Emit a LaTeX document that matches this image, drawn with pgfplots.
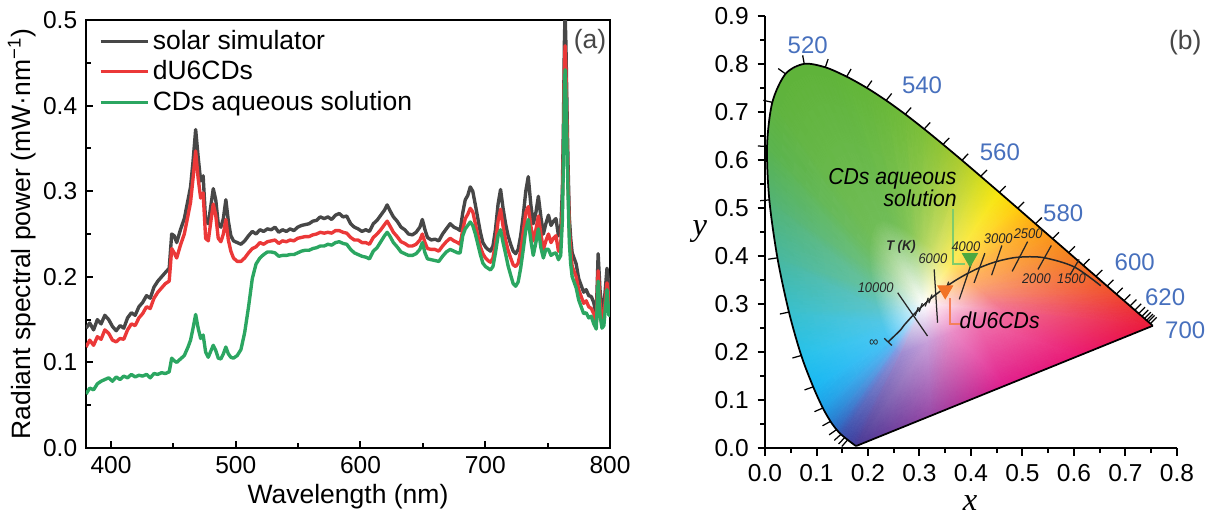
\documentclass[border=0pt]{standalone}
\usepackage{fontspec}
\setmainfont{Liberation Sans}
\newfontfamily\narrowsans[FakeStretch=0.92]{Liberation Sans}
\newfontfamily\seriffont{Liberation Serif}
\usepackage{pgfplots}
\usepackage{pgfplotstable}
\pgfplotsset{compat=1.18}
\definecolor{cblack}{rgb}{0.28,0.28,0.28}
\definecolor{cred}{rgb}{0.92,0.22,0.22}
\definecolor{cgreen}{rgb}{0.17,0.65,0.38}
\definecolor{wlblue}{rgb}{0.28,0.44,0.74}
\definecolor{mkgreen}{rgb}{0.30,0.66,0.25}
\definecolor{mkorange}{rgb}{0.95,0.45,0.15}
\definecolor{ldgreen}{rgb}{0.50,0.80,0.42}
\definecolor{ldorange}{rgb}{0.96,0.50,0.36}

\pgfplotstableread{
lam b r g
380 0.140 0.118 0.063
383 0.146 0.126 0.070
386.1 0.138 0.120 0.068
389.1 0.150 0.130 0.075
392.1 0.145 0.127 0.078
395.1 0.155 0.138 0.080
398.2 0.150 0.134 0.082
401.2 0.142 0.126 0.078
404.2 0.137 0.124 0.083
407.3 0.143 0.128 0.080
410.3 0.140 0.127 0.084
413.3 0.152 0.138 0.082
416.4 0.158 0.145 0.086
419.4 0.155 0.143 0.083
422.4 0.165 0.152 0.085
425.4 0.170 0.157 0.084
428.5 0.178 0.165 0.086
431.5 0.175 0.163 0.082
434.5 0.188 0.175 0.087
437.6 0.195 0.182 0.086
440.6 0.200 0.187 0.088
443.6 0.205 0.192 0.087
446.7 0.210 0.195 0.089
448.7 0.250 0.233 0.105
450.7 0.248 0.228 0.102
452.7 0.240 0.222 0.100
455.7 0.255 0.237 0.104
458.8 0.268 0.250 0.108
461.8 0.290 0.272 0.118
463.8 0.305 0.287 0.126
465.8 0.335 0.315 0.140
467.9 0.372 0.347 0.156
469.9 0.340 0.315 0.140
471.9 0.312 0.292 0.128
473.9 0.318 0.298 0.132
475.9 0.265 0.245 0.112
478.0 0.262 0.242 0.106
480.0 0.282 0.264 0.113
482.0 0.303 0.285 0.120
484.0 0.290 0.272 0.114
486.0 0.262 0.245 0.105
488.1 0.258 0.241 0.104
490.1 0.268 0.250 0.110
492.1 0.290 0.267 0.118
494.1 0.265 0.243 0.110
496.1 0.248 0.230 0.106
498.2 0.242 0.222 0.105
501.2 0.240 0.218 0.108
504.2 0.238 0.218 0.115
507.2 0.242 0.222 0.135
510.3 0.248 0.228 0.165
513.3 0.253 0.233 0.198
516.3 0.250 0.235 0.215
519.4 0.255 0.240 0.222
522.4 0.253 0.238 0.226
525.4 0.256 0.241 0.229
528.5 0.255 0.242 0.229
531.5 0.258 0.243 0.228
534.5 0.252 0.239 0.224
537.5 0.255 0.242 0.225
540.6 0.253 0.241 0.225
543.6 0.256 0.243 0.226
546.6 0.254 0.242 0.226
549.7 0.258 0.245 0.228
552.7 0.260 0.246 0.230
555.7 0.261 0.247 0.231
558.8 0.262 0.247 0.231
561.8 0.265 0.249 0.233
564.8 0.266 0.250 0.234
567.8 0.270 0.252 0.236
570.9 0.268 0.251 0.236
573.9 0.270 0.252 0.238
576.9 0.267 0.251 0.237
580.0 0.272 0.254 0.240
583.0 0.274 0.254 0.241
586.0 0.270 0.252 0.239
589.0 0.271 0.251 0.238
592.1 0.262 0.246 0.232
595.1 0.258 0.243 0.228
598.1 0.256 0.243 0.226
601.2 0.253 0.240 0.224
604.2 0.255 0.240 0.223
607.2 0.253 0.238 0.221
610.3 0.262 0.246 0.230
613.3 0.266 0.250 0.234
616.3 0.272 0.255 0.241
619.3 0.278 0.261 0.248
621.4 0.284 0.265 0.252
623.4 0.278 0.260 0.248
626.4 0.270 0.252 0.240
629.4 0.265 0.247 0.235
632.5 0.258 0.241 0.229
635.5 0.255 0.239 0.227
638.5 0.250 0.236 0.225
641.6 0.249 0.236 0.225
644.6 0.252 0.238 0.227
647.6 0.258 0.243 0.232
649.6 0.267 0.250 0.240
651.7 0.255 0.240 0.228
653.7 0.246 0.233 0.221
656.7 0.243 0.232 0.220
659.7 0.244 0.232 0.219
662.8 0.242 0.230 0.218
665.8 0.250 0.236 0.224
668.8 0.256 0.241 0.229
671.9 0.262 0.245 0.232
674.9 0.258 0.242 0.230
677.9 0.256 0.240 0.228
679.9 0.254 0.238 0.228
682.0 0.275 0.255 0.248
684.0 0.290 0.268 0.256
686.0 0.295 0.273 0.260
688.0 0.305 0.280 0.264
690.0 0.300 0.276 0.260
692.1 0.284 0.262 0.250
694.1 0.268 0.248 0.238
696.1 0.252 0.235 0.226
698.1 0.240 0.227 0.216
700.2 0.235 0.222 0.212
702.2 0.232 0.219 0.210
704.2 0.230 0.217 0.208
706.2 0.236 0.222 0.212
708.2 0.255 0.238 0.228
710.3 0.285 0.265 0.248
712.3 0.302 0.279 0.255
714.3 0.280 0.259 0.240
716.3 0.262 0.243 0.227
718.3 0.248 0.231 0.213
720.4 0.238 0.222 0.202
722.4 0.230 0.214 0.192
724.4 0.227 0.212 0.189
726.4 0.232 0.216 0.194
728.4 0.248 0.230 0.210
730.5 0.272 0.252 0.232
732.5 0.300 0.275 0.255
734.5 0.317 0.282 0.267
736.5 0.285 0.260 0.243
738.5 0.262 0.242 0.225
740.6 0.275 0.255 0.240
742.6 0.294 0.271 0.256
744.6 0.270 0.250 0.234
746.6 0.250 0.232 0.222
748.6 0.262 0.242 0.232
750.7 0.272 0.250 0.232
752.7 0.260 0.240 0.225
754.7 0.265 0.245 0.227
756.7 0.268 0.248 0.228
758.7 0.248 0.230 0.220
760.5 0.255 0.237 0.225
761.8 0.300 0.280 0.265
762.7 0.380 0.355 0.335
763.4 0.470 0.440 0.415
764.0 0.510 0.470 0.442
764.7 0.470 0.440 0.415
765.5 0.400 0.375 0.355
766.4 0.330 0.310 0.295
767.4 0.270 0.255 0.240
768.5 0.245 0.230 0.215
769.7 0.228 0.212 0.200
772.9 0.215 0.200 0.187
774.9 0.198 0.185 0.173
776.9 0.190 0.177 0.165
778.9 0.182 0.169 0.157
780.9 0.185 0.172 0.158
783.0 0.178 0.165 0.152
785.0 0.177 0.163 0.154
787.0 0.170 0.157 0.145
789.0 0.155 0.145 0.139
790.5 0.227 0.207 0.195
792.0 0.185 0.170 0.155
793.6 0.160 0.150 0.140
795.1 0.165 0.155 0.143
797.6 0.210 0.193 0.185
799.1 0.190 0.175 0.155
801.1 0.180 0.167 0.155
804.2 0.185 0.172 0.160
}\specdata

\begin{document}
\begin{tikzpicture}
\path[use as bounding box] (-34.4pt,-28pt) rectangle (448.4pt,179.2pt);
% ---------------- (a) ----------------
\begin{axis}[
  at={(0pt,0pt)}, anchor=south west,
  scale only axis, width=209.6pt, height=171.2pt,
  xmin=380, xmax=800, ymin=0, ymax=0.5,
  xtick={400,500,600,700,800},
  ytick={0,0.1,0.2,0.3,0.4,0.5},
  minor x tick num=1, minor y tick num=1,
  tick align=inside, tick pos=left,
  major tick length=3pt, minor tick length=2pt,
  tick style={black, line width=0.8pt},
  axis line style={line width=0.9pt},
  yticklabel style={/pgf/number format/fixed, /pgf/number format/fixed zerofill, /pgf/number format/precision=1},
  /pgf/number format/assume math mode=true,
  tick label style={font=\fontsize{9.8}{11}\selectfont},
  label style={font=\fontsize{10.6}{12}\selectfont},
  xlabel={Wavelength (nm)},
  ylabel={Radiant spectral power (mW·nm\textsuperscript{−1})},
  xlabel style={at={(axis description cs:0.5,-0.1145)}, anchor=center},
  ylabel style={at={(axis description cs:-0.122,0.5)}, anchor=center},
  legend style={at={(axis description cs:0.024,0.985)}, anchor=north west, draw=none, fill=none,
    font=\fontsize{10.6}{12}\selectfont, row sep=0.6pt, inner sep=0pt,
    nodes={inner sep=1.2pt}},
  legend cell align=left,
  legend image code/.code={\draw[#1, line width=1.3pt] (0pt,0pt) -- (19pt,0pt);},
]
\addplot[cblack, line width=1.35pt, line join=round] table[x=lam, y=b] {\specdata};
\addlegendentry{solar simulator}
\addplot[cred, line width=1.35pt, line join=round] table[x=lam, y=r] {\specdata};
\addlegendentry{dU6CDs}
\addplot[cgreen, line width=1.35pt, line join=round] table[x=lam, y=g] {\specdata};
\addlegendentry{CDs aqueous solution}
\node[font=\fontsize{10.6}{12}\selectfont, text=cblack] at (axis cs:784,0.475) {(a)};
\end{axis}

% ---------------- (b) ----------------
\begin{axis}[
  at={(271.6pt,0pt)}, anchor=south west,
  scale only axis, width=164.8pt, height=172.8pt,
  xmin=0, xmax=0.8, ymin=0, ymax=0.9,
  axis lines=left, axis line style={-, line width=0.8pt},
  clip=false,
  xtick={0,0.1,0.2,0.3,0.4,0.5,0.6,0.7,0.8},
  ytick={0,0.1,0.2,0.3,0.4,0.5,0.6,0.7,0.8,0.9},
  minor x tick num=1, minor y tick num=1,
  tick align=outside,
  major tick length=3pt, minor tick length=2pt,
  tick style={black, line width=0.8pt},
  xticklabel style={/pgf/number format/fixed, /pgf/number format/fixed zerofill, /pgf/number format/precision=1},
  yticklabel style={/pgf/number format/fixed, /pgf/number format/fixed zerofill, /pgf/number format/precision=1},
  /pgf/number format/assume math mode=true,
  tick label style={font=\fontsize{9.8}{11}\selectfont},
  xlabel={\seriffont\itshape x}, ylabel={\seriffont\itshape y},
  label style={font=\fontsize{13}{14}\selectfont},
  xlabel style={at={(axis description cs:0.498,-0.128)}, anchor=center},
  ylabel style={at={(axis description cs:-0.158,0.5)}, anchor=center, rotate=-90},
]
% colour fill of the chromaticity diagram
\addplot[patch, patch type=triangle, shader=interp, mesh/color input=explicit,
  point meta=explicit symbolic, table/row sep=\\,
  patch table={
76 38 39\\ 38 0 1\\ 38 1 39\\
76 39 40\\ 39 1 2\\ 39 2 40\\
76 40 41\\ 40 2 3\\ 40 3 41\\
76 41 42\\ 41 3 4\\ 41 4 42\\
76 42 43\\ 42 4 5\\ 42 5 43\\
76 43 44\\ 43 5 6\\ 43 6 44\\
76 44 45\\ 44 6 7\\ 44 7 45\\
76 45 46\\ 45 7 8\\ 45 8 46\\
76 46 47\\ 46 8 9\\ 46 9 47\\
76 47 48\\ 47 9 10\\ 47 10 48\\
76 48 49\\ 48 10 11\\ 48 11 49\\
76 49 50\\ 49 11 12\\ 49 12 50\\
76 50 51\\ 50 12 13\\ 50 13 51\\
76 51 52\\ 51 13 14\\ 51 14 52\\
76 52 53\\ 52 14 15\\ 52 15 53\\
76 53 54\\ 53 15 16\\ 53 16 54\\
76 54 55\\ 54 16 17\\ 54 17 55\\
76 55 56\\ 55 17 18\\ 55 18 56\\
76 56 57\\ 56 18 19\\ 56 19 57\\
76 57 58\\ 57 19 20\\ 57 20 58\\
76 58 59\\ 58 20 21\\ 58 21 59\\
76 59 60\\ 59 21 22\\ 59 22 60\\
76 60 61\\ 60 22 23\\ 60 23 61\\
76 61 62\\ 61 23 24\\ 61 24 62\\
76 62 63\\ 62 24 25\\ 62 25 63\\
76 63 64\\ 63 25 26\\ 63 26 64\\
76 64 65\\ 64 26 27\\ 64 27 65\\
76 65 66\\ 65 27 28\\ 65 28 66\\
76 66 67\\ 66 28 29\\ 66 29 67\\
76 67 68\\ 67 29 30\\ 67 30 68\\
76 68 69\\ 68 30 31\\ 68 31 69\\
76 69 70\\ 69 31 32\\ 69 32 70\\
76 70 71\\ 70 32 33\\ 70 33 71\\
76 71 72\\ 71 33 34\\ 71 34 72\\
76 72 73\\ 72 34 35\\ 72 35 73\\
76 73 74\\ 73 35 36\\ 73 36 74\\
76 74 75\\ 74 36 37\\ 74 37 75\\
76 75 38\\ 75 37 0\\ 75 0 38\\
}] table[meta=c] {
x y c\\
0.1785 0.0048 rgb=0.28,0.22,0.58\\
0.1685 0.0105 rgb=0.25,0.25,0.62\\
0.1476 0.0285 rgb=0.22,0.32,0.68\\
0.1389 0.0383 rgb=0.18,0.40,0.75\\
0.1272 0.0555 rgb=0.15,0.50,0.82\\
0.1123 0.0833 rgb=0.12,0.62,0.90\\
0.0936 0.1274 rgb=0.10,0.72,0.95\\
0.0704 0.1927 rgb=0.15,0.76,0.92\\
0.0465 0.2832 rgb=0.22,0.75,0.80\\
0.0241 0.3962 rgb=0.28,0.72,0.62\\
0.0084 0.5169 rgb=0.32,0.70,0.45\\
0.0040 0.6286 rgb=0.35,0.70,0.30\\
0.0142 0.7202 rgb=0.37,0.70,0.24\\
0.0399 0.7795 rgb=0.37,0.70,0.22\\
0.0762 0.8004 rgb=0.37,0.70,0.22\\
0.1171 0.7932 rgb=0.37,0.70,0.22\\
0.1586 0.7737 rgb=0.38,0.71,0.22\\
0.1977 0.7503 rgb=0.39,0.71,0.22\\
0.2353 0.7241 rgb=0.41,0.72,0.22\\
0.2724 0.6953 rgb=0.44,0.73,0.22\\
0.3091 0.6646 rgb=0.49,0.75,0.22\\
0.3457 0.6325 rgb=0.57,0.77,0.20\\
0.3824 0.5995 rgb=0.68,0.80,0.18\\
0.4189 0.5660 rgb=0.82,0.86,0.12\\
0.4552 0.5325 rgb=0.97,0.90,0.05\\
0.4908 0.4994 rgb=1.00,0.80,0.05\\
0.5253 0.4671 rgb=0.99,0.66,0.08\\
0.5584 0.4362 rgb=0.98,0.58,0.10\\
0.5896 0.4072 rgb=0.96,0.52,0.12\\
0.6180 0.3806 rgb=0.95,0.45,0.14\\
0.6427 0.3576 rgb=0.95,0.40,0.15\\
0.6824 0.3206 rgb=0.94,0.30,0.18\\
0.7088 0.2960 rgb=0.93,0.22,0.20\\
0.7370 0.2697 rgb=0.92,0.14,0.22\\
0.7531 0.2547 rgb=0.92,0.10,0.22\\
0.6095 0.1922 rgb=0.92,0.10,0.45\\
0.4658 0.1298 rgb=0.88,0.12,0.55\\
0.3222 0.0673 rgb=0.60,0.28,0.65\\
0.2640 0.1967 rgb=0.62,0.55,0.82\\
0.2605 0.1987 rgb=0.58,0.58,0.85\\
0.2532 0.2050 rgb=0.50,0.62,0.90\\
0.2501 0.2084 rgb=0.42,0.68,0.93\\
0.2460 0.2144 rgb=0.35,0.72,0.95\\
0.2408 0.2242 rgb=0.30,0.76,0.96\\
0.2343 0.2396 rgb=0.30,0.78,0.95\\
0.2261 0.2624 rgb=0.32,0.78,0.90\\
0.2178 0.2941 rgb=0.36,0.77,0.78\\
0.2099 0.3337 rgb=0.40,0.76,0.62\\
0.2044 0.3759 rgb=0.42,0.75,0.48\\
0.2029 0.4150 rgb=0.43,0.74,0.38\\
0.2065 0.4471 rgb=0.44,0.74,0.34\\
0.2155 0.4678 rgb=0.44,0.74,0.34\\
0.2282 0.4751 rgb=0.44,0.74,0.34\\
0.2425 0.4726 rgb=0.44,0.74,0.34\\
0.2570 0.4658 rgb=0.46,0.75,0.34\\
0.2707 0.4576 rgb=0.49,0.76,0.34\\
0.2839 0.4484 rgb=0.53,0.78,0.35\\
0.2968 0.4384 rgb=0.60,0.80,0.36\\
0.3097 0.4276 rgb=0.68,0.83,0.38\\
0.3225 0.4164 rgb=0.76,0.86,0.40\\
0.3353 0.4048 rgb=0.85,0.89,0.42\\
0.3481 0.3931 rgb=0.93,0.91,0.40\\
0.3608 0.3814 rgb=0.99,0.92,0.38\\
0.3733 0.3698 rgb=1.00,0.84,0.38\\
0.3854 0.3585 rgb=1.00,0.76,0.40\\
0.3969 0.3477 rgb=1.00,0.70,0.42\\
0.4079 0.3375 rgb=0.99,0.66,0.45\\
0.4178 0.3282 rgb=0.98,0.62,0.48\\
0.4264 0.3202 rgb=0.97,0.58,0.50\\
0.4403 0.3072 rgb=0.96,0.52,0.54\\
0.4496 0.2986 rgb=0.95,0.48,0.56\\
0.4595 0.2894 rgb=0.95,0.45,0.58\\
0.4651 0.2841 rgb=0.94,0.42,0.60\\
0.4148 0.2623 rgb=0.94,0.45,0.68\\
0.3645 0.2404 rgb=0.92,0.55,0.78\\
0.3143 0.2186 rgb=0.78,0.62,0.85\\
0.3100 0.3000 rgb=1,1,1\\
};
% spectral locus
\addplot[black, line width=0.7pt, smooth, tension=0.5] table {
x y
0.1785 0.0048
0.1757 0.0049
0.1685 0.0105
0.1605 0.0170
0.1548 0.0218
0.1476 0.0285
0.1389 0.0383
0.1272 0.0555
0.1123 0.0833
0.0936 0.1274
0.0704 0.1927
0.0465 0.2832
0.0241 0.3962
0.0084 0.5169
0.0040 0.6286
0.0142 0.7202
0.0399 0.7795
0.0762 0.8004
0.1171 0.7932
0.1586 0.7737
0.1977 0.7503
0.2353 0.7241
0.2724 0.6953
0.3091 0.6646
0.3457 0.6325
0.3824 0.5995
0.4189 0.5660
0.4552 0.5325
0.4908 0.4994
0.5253 0.4671
0.5584 0.4362
0.5896 0.4072
0.6180 0.3806
0.6427 0.3576
0.6644 0.3373
0.6824 0.3206
0.6971 0.3069
0.7088 0.2960
0.7181 0.2873
0.7256 0.2803
0.7319 0.2745
0.7370 0.2697
0.7411 0.2659
0.7442 0.2630
0.7483 0.2592
0.7517 0.2559
0.7531 0.2547
};
\addplot[black, line width=0.7pt] coordinates {(0.7531,0.2547) (0.1785,0.0048)};
% wavelength ticks on the locus
\addplot[black, line width=0.5pt, -, quiver={u=\thisrow{u}, v=\thisrow{v}}] table {
x y u v
0.1605 0.0170 -0.0114 -0.0139
0.1548 0.0218 -0.0120 -0.0134
0.1476 0.0285 -0.0130 -0.0125
0.1389 0.0383 -0.0144 -0.0109
0.1272 0.0555 -0.0155 -0.0092
0.1123 0.0833 -0.0163 -0.0076
0.0936 0.1274 -0.0168 -0.0064
0.0704 0.1927 -0.0172 -0.0052
0.0465 0.2832 -0.0176 -0.0040
0.0241 0.3962 -0.0178 -0.0029
0.0084 0.5169 -0.0179 -0.0016
0.0040 0.6286 -0.0180 0.0005
0.0142 0.7202 -0.0175 0.0042
0.0399 0.7795 -0.0142 0.0110
0.0762 0.8004 -0.0031 0.0177
0.1171 0.7932 0.0055 0.0171
0.1586 0.7737 0.0085 0.0159
0.1977 0.7503 0.0098 0.0151
0.2353 0.7241 0.0107 0.0145
0.2724 0.6953 0.0113 0.0140
0.3091 0.6646 0.0117 0.0137
0.3457 0.6325 0.0120 0.0135
0.3824 0.5995 0.0121 0.0133
0.4189 0.5660 0.0122 0.0132
0.4552 0.5325 0.0122 0.0132
0.4908 0.4994 0.0123 0.0132
0.5253 0.4671 0.0123 0.0131
0.5584 0.4362 0.0123 0.0132
0.5896 0.4072 0.0123 0.0132
0.6180 0.3806 0.0123 0.0132
0.6427 0.3576 0.0123 0.0132
0.6644 0.3373 0.0123 0.0132
0.6824 0.3206 0.0123 0.0132
0.6971 0.3069 0.0123 0.0132
0.7088 0.2960 0.0123 0.0132
0.7181 0.2873 0.0123 0.0132
0.7256 0.2803 0.0123 0.0132
0.7319 0.2745 0.0123 0.0132
0.7370 0.2697 0.0123 0.0132
0.7411 0.2659 0.0123 0.0132
0.7442 0.2630 0.0123 0.0132
0.7483 0.2592 0.0123 0.0132
};
% Planckian locus
\addplot[black!85, line width=0.6pt, smooth] table {
x y
0.2390 0.2210
0.2632 0.2459
0.2703 0.2561
0.2877 0.2768
0.3024 0.2926
0.3213 0.3108
0.3302 0.3185
0.3537 0.3375
0.3698 0.3491
0.3900 0.3617
0.4154 0.3751
0.4478 0.3879
0.4889 0.3972
0.5399 0.3968
0.6003 0.3774
0.6520 0.3380
};
% isotherms
\addplot[black!85, line width=0.5pt, -, quiver={u=\thisrow{u}, v=\thisrow{v}}] table {
x y u v
0.3156 0.2333 -0.0580 0.0902
0.3351 0.2610 -0.0066 0.1113
0.3773 0.3098 0.0293 0.0937
0.4060 0.3440 0.0210 0.0620
0.4400 0.3600 0.0200 0.0620
0.4800 0.3680 0.0300 0.0620
0.5300 0.3720 0.0260 0.0500
0.5920 0.3600 0.0180 0.0330
0.2916 0.2754 0.0060 0.0180
0.2994 0.2836 0.0060 0.0180
0.3111 0.2949 0.0060 0.0180
0.3183 0.3018 0.0060 0.0180
0.3507 0.3285 0.0060 0.0180
0.2315 0.2285 0.0150 -0.0150
};
% leaders
\addplot[ldgreen, line width=0.6pt] coordinates {(0.365,0.498) (0.365,0.383) (0.389,0.383)};
\addplot[ldorange, line width=0.6pt] coordinates {(0.359,0.3125) (0.359,0.258) (0.381,0.258)};
% markers
\addplot[only marks, mark=triangle*, mark size=3.4pt, mark options={rotate=180, fill=mkgreen, draw=mkgreen}] coordinates {(0.398,0.396)};
\addplot[only marks, mark=triangle*, mark size=3.4pt, mark options={rotate=180, fill=mkorange, draw=mkorange}] coordinates {(0.350,0.329)};
% wavelength labels
\begin{scope}[every node/.style={font=\fontsize{9.6}{11}\selectfont, text=wlblue}]
\node at (axis cs:0.083,0.840) {520};
\node at (axis cs:0.305,0.756) {540};
\node at (axis cs:0.456,0.617) {560};
\node at (axis cs:0.579,0.490) {580};
\node at (axis cs:0.718,0.388) {600};
\node at (axis cs:0.777,0.315) {620};
\node at (axis cs:0.816,0.246) {700};
\end{scope}
\begin{scope}[every node/.style={font=\narrowsans\itshape\fontsize{5.6}{6}\selectfont, text=black!85, inner sep=0pt}]
\node at (axis cs:0.264,0.420) {\bfseries T (K)};
\node at (axis cs:0.326,0.394) {6000};
\node at (axis cs:0.390,0.420) {4000};
\node at (axis cs:0.453,0.437) {3000};
\node at (axis cs:0.511,0.446) {2500};
\node at (axis cs:0.527,0.352) {2000};
\node at (axis cs:0.595,0.352) {1500};
\node at (axis cs:0.215,0.333) {10000};
\node at (axis cs:0.211,0.219) {∞};
\end{scope}
\node[font=\narrowsans\itshape\fontsize{9.2}{8.6}\selectfont, align=right, anchor=east, inner sep=0pt] at (axis cs:0.373,0.543) {CDs aqueous\\solution};
\node[font=\narrowsans\itshape\fontsize{9.2}{10}\selectfont, anchor=west, inner sep=0pt] at (axis cs:0.377,0.267) {dU6CDs};
\node[font=\fontsize{10.6}{12}\selectfont, text=cblack] at (axis cs:0.816,0.844) {(b)};
\end{axis}
\end{tikzpicture}
\end{document}
